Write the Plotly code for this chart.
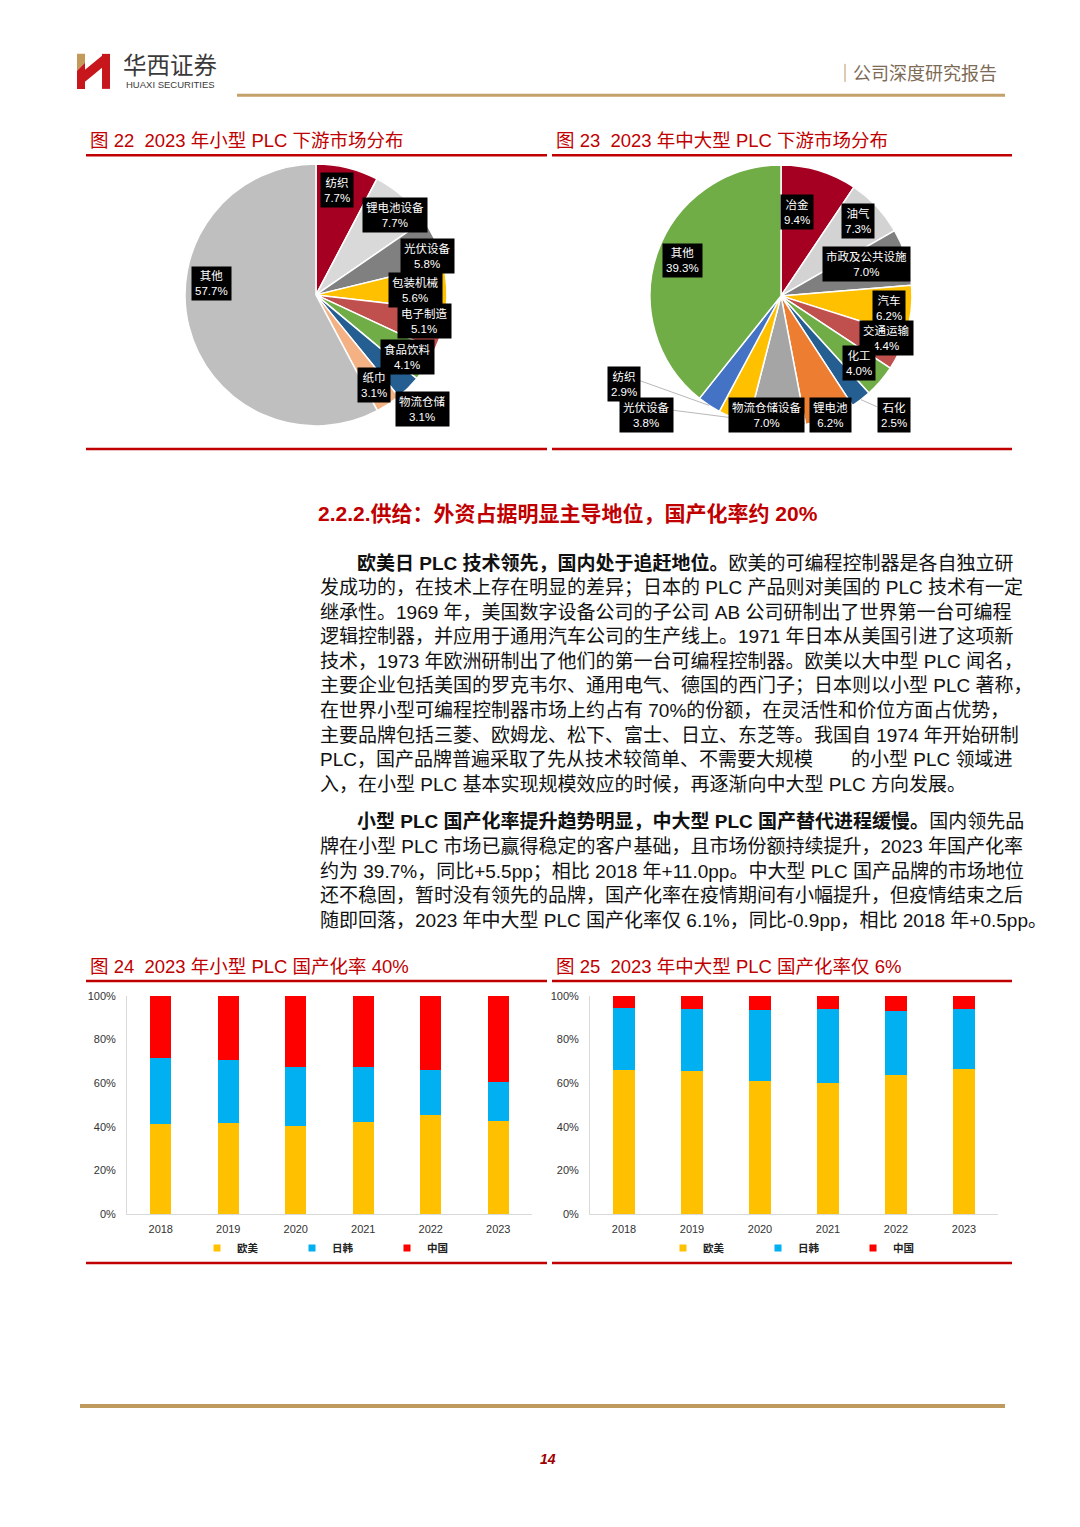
import math
import plotly.graph_objects as go

W, H = 1080, 1527          # page size (browser window)
M = 8                      # default body margin of the html page
FW, FH = W - 2 * M, H - 2 * M
# measured vertical mapping of the captured page (screen_y = Y_OFF + Y_SCALE * page_y)
Y_OFF, Y_SCALE = 6.2, 0.992

# ---------------- data ----------------
pie1_labels = ["纺织", "锂电池设备", "光伏设备", "包装机械", "电子制造", "食品饮料", "物流仓储", "纸巾", "其他"]
pie1_values = [7.7, 7.7, 5.8, 5.6, 5.1, 4.1, 3.1, 3.1, 57.7]

pie2_labels = ["冶金", "油气", "市政及公共设施", "汽车", "交通运输", "化工", "石化", "锂电池",
               "物流仓储设备", "光伏设备", "纺织", "其他"]
pie2_values = [9.4, 7.3, 7.0, 6.2, 4.4, 4.0, 2.5, 6.2, 7.0, 3.8, 2.9, 39.3]

years = ["2018", "2019", "2020", "2021", "2022", "2023"]
series_names = ["欧美", "日韩", "中国"]
small_eu_us = [41.3, 41.5, 40.5, 42.1, 45.3, 42.7]
small_jp_kr = [30.0, 29.1, 26.7, 25.1, 20.5, 17.6]
small_cn = [28.7, 29.4, 32.8, 32.8, 34.2, 39.7]
large_eu_us = [65.9, 65.4, 61.1, 60.2, 63.7, 66.5]
large_jp_kr = [28.5, 28.7, 32.3, 33.6, 29.3, 27.4]
large_cn = [5.6, 5.9, 6.6, 6.2, 7.0, 6.1]

y_ticks = [0, 20, 40, 60, 80, 100]
y_tick_text = ["0%", "20%", "40%", "60%", "80%", "100%"]

# ---------------- styles ----------------
pie1_colors = ["#A50021", "#D9D9D9", "#808080", "#FFC000", "#C0504D", "#70AD47", "#255E91", "#F4B183", "#BFBFBF"]
pie2_colors = ["#A50021", "#D3D3D3", "#7F7F7F", "#FFC000", "#C0504D", "#70AD47", "#255E91", "#ED7D31",
               "#A5A5A5", "#FFC000", "#4472C4", "#70AD47"]
# label placement (angle offset in degrees, radius factor)
pie1_label_style = [(-2.6, .82), (3, .855), (4.9, .90), (0.7, .757), (-2.3, .855), (1.8, .847),
                    (1.8, 1.19), (0.9, .817), (20.1, .80)]
pie2_label_style = [(-6.1, .65), (-1.3, .82), (-3.1, .70), (-0.2, .83), (-4, .87), (0, .786),
                    (-5.9, 1.25), (-0.8, .985), (4.9, .916), (27.2, 1.374), (27.4, 1.374), (0.2, .80)]
pie2_leaders = {6: (-17, -8), 9: (27, -5), 10: (14, -4)}
bar_colors = ["#FFC000", "#00B0F0", "#FF0000"]

RED = "#C00000"
GOLD = "#C4A06A"
LAT = "Liberation Sans, Arial, Noto Sans CJK SC, sans-serif"
CJK = "Liberation Sans, Noto Sans CJK SC, sans-serif"


def px(x):
    return (x - M) / FW


def py(y):
    yp = (y - Y_OFF) / Y_SCALE
    return 1 - (yp - M) / FH


fig = go.Figure()
shapes = []
annotations = []


def hline(x0, x1, y, color, width):
    shapes.append(dict(type="line", xref="paper", yref="paper", x0=px(x0), x1=px(x1), y0=py(y), y1=py(y),
                       line=dict(color=color, width=width)))


def seg(x0, y0, x1, y1, color, width):
    shapes.append(dict(type="line", xref="paper", yref="paper", x0=px(x0), x1=px(x1), y0=py(y0), y1=py(y1),
                       line=dict(color=color, width=width)))


def poly(points, color):
    d = "M" + " L".join(f"{px(a):.5f},{py(b):.5f}" for a, b in points) + " Z"
    shapes.append(dict(type="path", xref="paper", yref="paper", path=d, fillcolor=color, line=dict(width=0)))


def text(x, y, s, size, color="#000000", xanchor="left", family=CJK, yanchor="middle"):
    annotations.append(dict(x=px(x), y=py(y), xref="paper", yref="paper", text=s, showarrow=False,
                            xanchor=xanchor, yanchor=yanchor, align="left",
                            font=dict(size=size, color=color, family=family)))


# ---------------- header ----------------
poly([(77, 54), (85, 54), (85, 63), (77, 71)], "#C49A5A")
poly([(77, 71), (85, 63), (85, 89), (77, 89)], "#C8161D")
poly([(85, 70), (102, 56), (102, 68), (85, 82)], "#C8161D")
poly([(102, 54), (110, 54), (110, 89), (102, 89)], "#C8161D")
text(121, 66, "华西证券", 23.5, "#3A3A3A")
text(124, 85, "HUAXI SECURITIES", 9.5, "#3A3A3A", family=LAT)
seg(845, 64, 845, 82, "#B8966A", 1)
text(999, 74, "公司深度研究报告", 18, "#7D6A55", xanchor="right")
hline(237, 1005, 95.5, GOLD, 3)

# ---------------- pies ----------------
def add_pie(labels, values, colors, cx, cy, R, styles, leaders):
    fig.add_trace(go.Pie(labels=labels, values=values, sort=False, direction="clockwise", rotation=0,
                         marker=dict(colors=colors, line=dict(color="white", width=1.5)),
                         textinfo="none", hoverinfo="skip", showlegend=False,
                         domain=dict(x=[px(cx - R), px(cx + R)], y=[py(cy + R), py(cy - R)])))
    total = sum(values)
    cum = 0
    for i, (lab, v) in enumerate(zip(labels, values)):
        mid = (cum + v / 2) / total * 360
        cum += v
        da, rf = styles[i]
        a = math.radians(mid + da)
        lx = cx + rf * R * math.sin(a)
        ly = cy - rf * R * math.cos(a)
        if i in leaders:
            am = math.radians(mid)
            sx = cx + R * math.sin(am)
            sy = cy - R * math.cos(am)
            ox, oy = leaders[i]
            seg(sx, sy, lx + ox, ly + oy, "#A6A6A6", 0.8)
        annotations.append(dict(x=px(lx), y=py(ly), xref="paper", yref="paper", showarrow=False,
                                xanchor="center", yanchor="middle",
                                text=f"{lab}<br>{v:.1f}%", bgcolor="#000000", borderpad=3,
                                font=dict(size=11.5, color="white", family=CJK)))


add_pie(pie1_labels, pie1_values, pie1_colors, 316, 295, 131, pie1_label_style, {})
add_pie(pie2_labels, pie2_values, pie2_colors, 781, 296, 131, pie2_label_style, pie2_leaders)

NB = "\u00a0"
text(88, 141, f"图 22{NB} 2023 年小型 PLC 下游市场分布", 18.5, RED)
text(554, 141, f"图 23{NB} 2023 年中大型 PLC 下游市场分布", 18.5, RED)
hline(86, 547, 155.5, RED, 2.5)
hline(552, 1012, 155.5, RED, 2.5)
hline(86, 547, 449, RED, 2.5)
hline(552, 1012, 449, RED, 2.5)

# ---------------- section text ----------------
text(316, 514, "<b>2.2.2.供给：外资占据明显主导地位，国产化率约 20%</b>", 21, RED)

para1 = [
    "<b>欧美日 PLC 技术领先，国内处于追赶地位。</b>欧美的可编程控制器是各自独立研",
    "发成功的，在技术上存在明显的差异；日本的 PLC 产品则对美国的 PLC 技术有一定",
    "继承性。1969 年，美国数字设备公司的子公司 AB 公司研制出了世界第一台可编程",
    "逻辑控制器，并应用于通用汽车公司的生产线上。1971 年日本从美国引进了这项新",
    "技术，1973 年欧洲研制出了他们的第一台可编程控制器。欧美以大中型 PLC 闻名，",
    "主要企业包括美国的罗克韦尔、通用电气、德国的西门子；日本则以小型 PLC 著称，",
    "在世界小型可编程控制器市场上约占有 70%的份额，在灵活性和价位方面占优势，",
    "主要品牌包括三菱、欧姆龙、松下、富士、日立、东芝等。我国自 1974 年开始研制",
    "PLC，国产品牌普遍采取了先从技术较简单、不需要大规模\u3000\u3000的小型 PLC 领域进",
    "入，在小型 PLC 基本实现规模效应的时候，再逐渐向中大型 PLC 方向发展。",
]
para2 = [
    "<b>小型 PLC 国产化率提升趋势明显，中大型 PLC 国产替代进程缓慢。</b>国内领先品",
    "牌在小型 PLC 市场已赢得稳定的客户基础，且市场份额持续提升，2023 年国产化率",
    "约为 39.7%，同比+5.5pp；相比 2018 年+11.0pp。中大型 PLC 国产品牌的市场地位",
    "还不稳固，暂时没有领先的品牌，国产化率在疫情期间有小幅提升，但疫情结束之后",
    "随即回落，2023 年中大型 PLC 国产化率仅 6.1%，同比-0.9pp，相比 2018 年+0.5pp。",
]
for k, line in enumerate(para1):
    text(355 if k == 0 else 318, 563 + k * 24.6, line, 19, "#111111")
for k, line in enumerate(para2):
    text(355 if k == 0 else 318, 822 + k * 24.6, line, 19, "#111111")

# ---------------- bar charts ----------------
text(88, 967, f"图 24{NB} 2023 年小型 PLC 国产化率 40%", 18.5, RED)
text(554, 967, f"图 25{NB} 2023 年中大型 PLC 国产化率仅 6%", 18.5, RED)
hline(86, 547, 981, RED, 2.5)
hline(552, 1012, 981, RED, 2.5)
hline(86, 547, 1263, RED, 2.5)
hline(552, 1012, 1263, RED, 2.5)

small = [small_eu_us, small_jp_kr, small_cn]
large = [large_eu_us, large_jp_kr, large_cn]
for data, xa, ya, lg in [(small, "x", "y", "legend"), (large, "x2", "y2", "legend2")]:
    for name, vals, col in zip(series_names, data, bar_colors):
        fig.add_trace(go.Bar(x=years, y=vals, name=name, marker=dict(color=col, line=dict(width=0)),
                             width=0.31, xaxis=xa, yaxis=ya, showlegend=False, hoverinfo="skip"))
    for name, col in zip(series_names, bar_colors):
        fig.add_trace(go.Scatter(x=[None], y=[None], mode="markers", name=f"<b>{name}</b>",
                                 marker=dict(symbol="square", size=7, color=col),
                                 xaxis=xa, yaxis=ya, legend=lg, hoverinfo="skip"))

axis_font = dict(size=11, color="#333333", family=LAT)
xcommon = dict(type="category", showline=True, linecolor="#D9D9D9", linewidth=1, ticks="",
               showgrid=False, zeroline=False, tickfont=axis_font, fixedrange=True,
               ticklabelstandoff=5)
ycommon = dict(range=[0, 100], tickvals=y_ticks, ticktext=y_tick_text, showline=True, linecolor="#D9D9D9",
               linewidth=1, ticks="", showgrid=False, zeroline=False, tickfont=axis_font,
               ticklabelstandoff=8, fixedrange=True)

legend_common = dict(orientation="h", xanchor="left", yanchor="middle", entrywidth=50,
                     entrywidthmode="pixels", bgcolor="rgba(0,0,0,0)", itemclick=False,
                     traceorder="normal",
                     font=dict(size=10.5, color="#222222", family=CJK), tracegroupgap=0)

fig.update_layout(
    width=FW, height=FH, margin=dict(l=0, r=0, t=0, b=0), autosize=False,
    paper_bgcolor="white", plot_bgcolor="white", barmode="stack",
    xaxis=dict(domain=[px(127), px(532)], anchor="y", **xcommon),
    yaxis=dict(domain=[py(1214), py(996)], anchor="x", **ycommon),
    xaxis2=dict(domain=[px(590), px(998)], anchor="y2", **xcommon),
    yaxis2=dict(domain=[py(1214), py(996)], anchor="x2", **ycommon),
    legend=dict(x=px(197), y=py(1248), **legend_common),
    legend2=dict(x=px(663), y=py(1248), **legend_common),
)

# footer
hline(80, 1005, 1406, "#BF9A5E", 4)
text(548, 1459, "<b><i>14</i></b>", 14, "#A00000", xanchor="center", family=LAT)

fig.update_layout(shapes=shapes, annotations=annotations)

fig.write_html("out.html", config={"displayModeBar": False})
